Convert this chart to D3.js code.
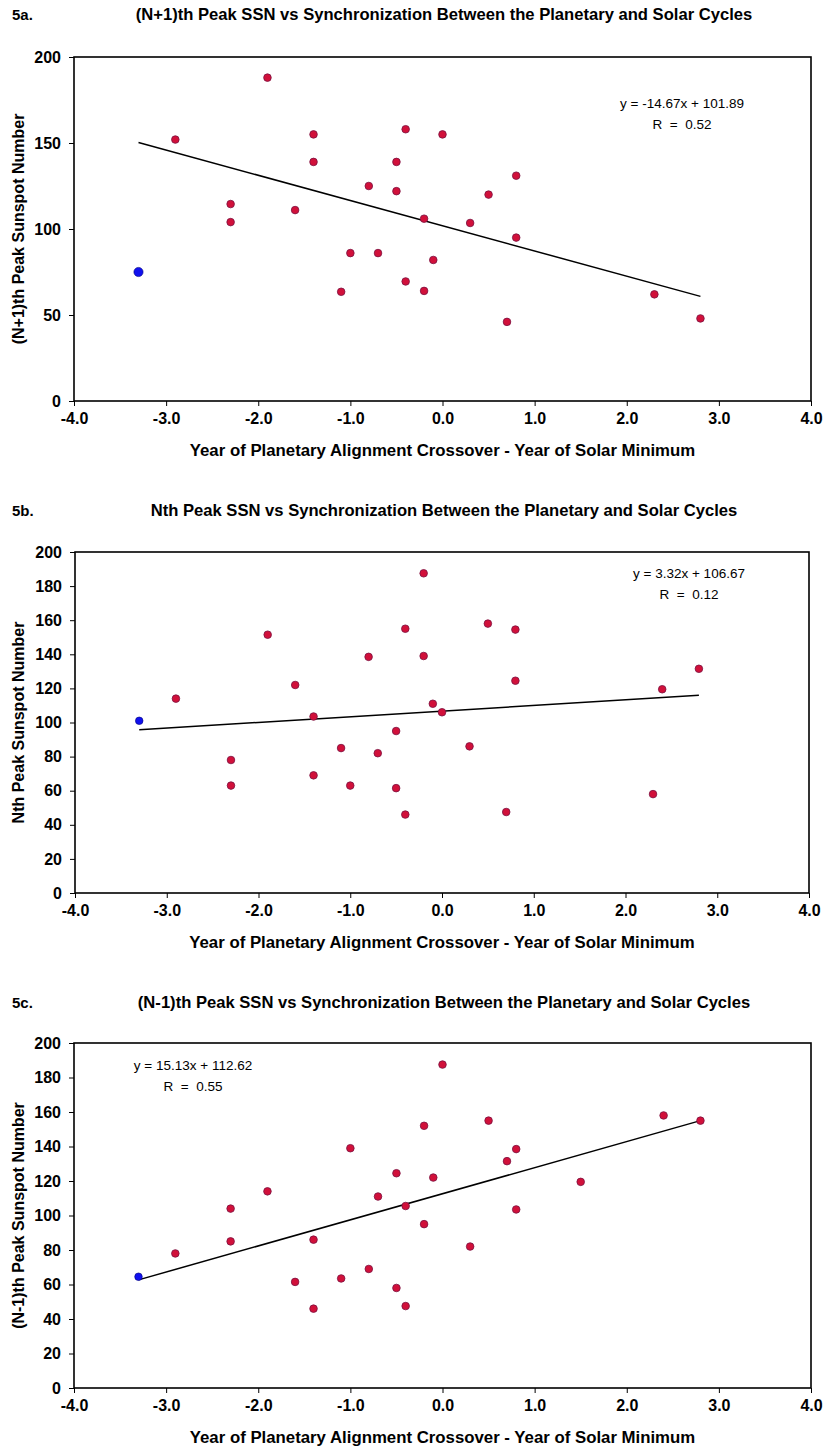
<!DOCTYPE html>
<html>
<head>
<meta charset="utf-8">
<script src="https://cdnjs.cloudflare.com/ajax/libs/d3/7.8.5/d3.min.js"></script>
<style>
    body { margin: 0; background: #ffffff; }
    svg { display: block; font-family: Arial, "Liberation Sans", sans-serif; }
</style>
</head>
<body>
<div id="chart-holder"></div>
<script>
// DATA
// x ticks are shared by all three panels
var xTicks = [-4, -3, -2, -1, 0, 1, 2, 3, 4];
var yTicksA = [0, 50, 100, 150, 200];
var yTicksBC = [0, 20, 40, 60, 80, 100, 120, 140, 160, 180, 200];

// 5a. (N+1)th peak
var aX = [-2.9, -1.9, -2.3, -2.3, -1.6, -1.4, -1.4, -0.8, -1.0, -0.7, -1.1, -0.5, -0.5,
    -0.4, -0.4, -0.2, -0.2, -0.1, 0.0, 0.8, 0.5, 0.3, 0.8, 0.7, 2.3, 2.8];
var aY = [152, 188, 114.5, 104, 111, 155, 139, 125, 86, 86, 63.5, 139, 122,
    158, 69.5, 106, 64, 82, 155, 131, 120, 103.5, 95, 46, 62, 48];
var aBlue = [-3.3, 75];
var aFit = [-14.67, 101.89];
var aR = "0.52";

// 5b. Nth peak
var bX = [-2.9, -2.3, -2.3, -1.9, -1.6, -1.4, -1.4, -1.1, -1.0, -0.8, -0.7, -0.5, -0.5, -0.4,
    -0.4, -0.2, -0.2, -0.1, 0.0, 0.3, 0.5, 0.8, 0.8, 0.7, 2.3, 2.4, 2.8];
var bY = [114, 78, 63, 151.5, 122, 103.5, 69, 85, 63, 138.5, 82, 95, 61.5, 155,
    46, 187.5, 139, 111, 106, 86, 158, 154.5, 124.5, 47.5, 58, 119.5, 131.5];
var bBlue = [-3.3, 101];
var bFit = [3.32, 106.67];
var bR = "0.12";

// 5c. (N-1)th peak
var cX = [-2.9, -2.3, -2.3, -1.9, -1.6, -1.4, -1.4, -1.1, -1.0, -0.8, -0.7, -0.5, -0.5, -0.4,
    -0.4, -0.2, -0.2, -0.1, 0.0, 0.3, 0.5, 0.7, 0.8, 0.8, 1.5, 2.4, 2.8];
var cY = [78, 104, 85, 114, 61.5, 86, 46, 63.5, 139, 69, 111, 124.5, 58, 105.5,
    47.5, 152, 95, 122, 187.5, 82, 155, 131.5, 138.5, 103.5, 119.5, 158, 155];
var cBlue = [-3.3, 64.5];
var cFit = [15.13, 112.62];
var cR = "0.55";

// trend lines run over the range of the data
var fitRange = [-3.3, 2.8];

var xTitle = "Year of Planetary Alignment Crossover - Year of Solar Minimum";

// DEFINE SVG
w = 826;
h = 1446;

var svg = d3
    .select("#chart-holder")
    .append("svg")
    .attr("width", w)
    .attr("height", h);

function drawPanel(p) {
    var x = d3.scaleLinear().domain([-4, 4]).range([p.left, p.right]);
    var y = d3.scaleLinear().domain([0, 200]).range([p.bottom, p.top]);
    var g = svg.append("g");

    // panel label and title
    g.append("text")
        .attr("x", 12)
        .attr("y", p.top - p.titleGap)
        .attr("font-size", 15)
        .attr("font-weight", "bold")
        .text(p.label);
    g.append("text")
        .attr("x", 444)
        .attr("y", p.top - p.titleGap)
        .attr("text-anchor", "middle")
        .attr("font-size", 16.6)
        .attr("font-weight", "bold")
        .text(p.title);

    // axes - plain hyphen minus like the original, not the unicode one
    var xAxis = d3.axisBottom(x)
        .tickValues(xTicks)
        .tickSize(5)
        .tickPadding(7)
        .tickFormat(d => d.toFixed(1));
    var yAxis = d3.axisLeft(y)
        .tickValues(p.yTicks)
        .tickSize(5)
        .tickPadding(8)
        .tickFormat(d => String(d));

    g.append("g")
        .attr("transform", "translate(0," + p.bottom + ")")
        .call(xAxis)
        .call(ax => ax.select(".domain").remove());
    g.append("g")
        .attr("transform", "translate(" + p.left + ",0)")
        .call(yAxis)
        .call(ax => ax.select(".domain").remove());

    g.selectAll(".tick text")
        .attr("font-size", 16)
        .attr("font-weight", "bold")
        .attr("font-family", "Arial, 'Liberation Sans', sans-serif")
        .attr("fill", "#000");
    g.selectAll(".tick line")
        .attr("stroke", "#000")
        .attr("stroke-width", 1);

    // plot frame
    g.append("rect")
        .attr("x", p.left)
        .attr("y", p.top)
        .attr("width", p.right - p.left)
        .attr("height", p.bottom - p.top)
        .attr("fill", "none")
        .attr("stroke", "#000")
        .attr("stroke-width", 1.6);

    // axis titles
    g.append("text")
        .attr("x", (p.left + p.right) / 2)
        .attr("y", p.bottom + 55)
        .attr("text-anchor", "middle")
        .attr("font-size", 16.8)
        .attr("font-weight", "bold")
        .text(xTitle);
    g.append("text")
        .attr("transform", "translate(24," + (p.top + p.bottom) / 2 + ")rotate(-90)")
        .attr("text-anchor", "middle")
        .attr("font-size", 16)
        .attr("font-weight", "bold")
        .text(p.yTitle);

    // trend line
    g.append("line")
        .attr("x1", x(fitRange[0]))
        .attr("y1", y(p.fit[0] * fitRange[0] + p.fit[1]))
        .attr("x2", x(fitRange[1]))
        .attr("y2", y(p.fit[0] * fitRange[1] + p.fit[1]))
        .attr("stroke", "#000")
        .attr("stroke-width", 1.5);

    // red points
    g.selectAll(".mark")
        .data(d3.zip(p.xs, p.ys))
        .enter()
        .append("circle")
        .attr("class", "mark")
        .attr("cx", d => x(d[0]))
        .attr("cy", d => y(d[1]))
        .attr("r", 3.8)
        .attr("fill", "#d1103a")
        .attr("stroke", "#7a1040")
        .attr("stroke-width", 0.8);

    // blue point
    g.append("circle")
        .attr("cx", x(p.blue[0]))
        .attr("cy", y(p.blue[1]))
        .attr("r", p.blueR)
        .attr("fill", "#1010ee")
        .attr("stroke", "#000080")
        .attr("stroke-width", 0.6);

    // regression equation
    var sign = p.fit[1] < 0 ? " - " : " + ";
    var eq = g.append("g")
        .attr("transform", "translate(" + (p.left + p.eq[0]) + "," + (p.top + p.eq[1]) + ")")
        .attr("font-size", 13.5)
        .attr("text-anchor", "middle");
    eq.append("text")
        .attr("y", 0)
        .text("y = " + p.fit[0].toFixed(2) + "x" + sign + Math.abs(p.fit[1]).toFixed(2));
    eq.append("text")
        .attr("y", 21)
        .style("white-space", "pre")
        .text("R  =  " + p.r);
}

drawPanel({
    label: "5a.",
    title: "(N+1)th Peak SSN vs Synchronization Between the Planetary and Solar Cycles",
    yTitle: "(N+1)th Peak Sunspot Number",
    left: 74, right: 811, top: 57, bottom: 401, titleGap: 37,
    yTicks: yTicksA,
    xs: aX, ys: aY, blue: aBlue, blueR: 4.6,
    fit: aFit, r: aR, eq: [608, 51]
});

drawPanel({
    label: "5b.",
    title: "Nth Peak SSN vs Synchronization Between the Planetary and Solar Cycles",
    yTitle: "Nth Peak Sunspot Number",
    left: 75, right: 809, top: 552, bottom: 893, titleGap: 36,
    yTicks: yTicksBC,
    xs: bX, ys: bY, blue: bBlue, blueR: 3.8,
    fit: bFit, r: bR, eq: [614, 26]
});

drawPanel({
    label: "5c.",
    title: "(N-1)th Peak SSN vs Synchronization Between the Planetary and Solar Cycles",
    yTitle: "(N-1)th Peak Sunspot Number",
    left: 74, right: 811, top: 1043, bottom: 1388, titleGap: 35,
    yTicks: yTicksBC,
    xs: cX, ys: cY, blue: cBlue, blueR: 3.8,
    fit: cFit, r: cR, eq: [119, 27]
});
</script>
</body>
</html>
